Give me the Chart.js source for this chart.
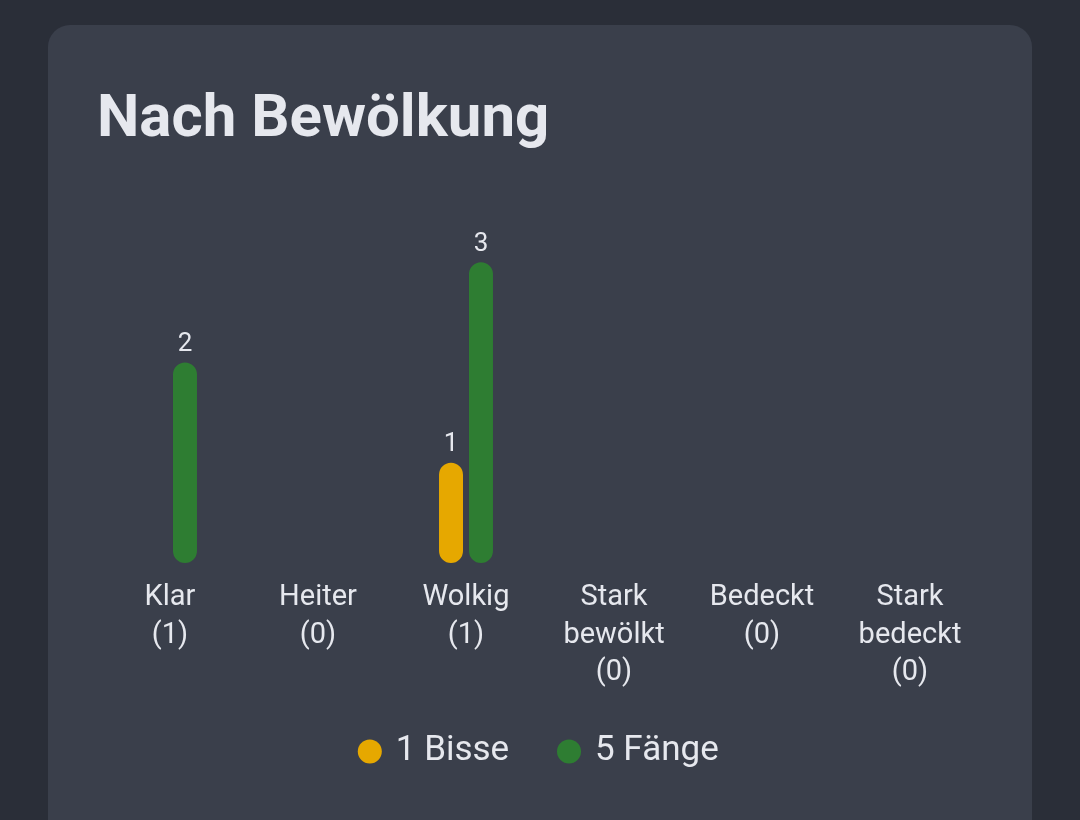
<!DOCTYPE html>
<html lang="de">
<head>
<meta charset="utf-8">
<title>Nach Bewölkung</title>
<script src="https://cdn.jsdelivr.net/npm/chart.js@4/dist/chart.umd.min.js"></script>
<style>
  html, body { margin: 0; padding: 0; }
  body {
    width: 1080px; height: 820px; overflow: hidden;
    background: #2a2e38;
    font-family: Roboto, "Noto Sans", sans-serif;
  }
  .card {
    position: absolute; left: 48px; top: 25px;
    width: 984px; height: 830px;
    background: #3a3f4b; border-radius: 22px;
  }
  .card h2 {
    position: absolute; left: 49px; top: 55px; margin: 0;
    font-size: 60px; font-weight: 700; color: #e6e8ee;
  }
  .chart-box {
    position: absolute; left: 0; top: 187px;
    width: 984px; height: 567px;
  }
</style>
</head>
<body>
<div class="card">
  <h2>Nach Bewölkung</h2>
  <div class="chart-box"><canvas id="cloudChart"></canvas></div>
</div>
<script>
// categories and counts per cloud cover
var categories = [["Klar", "(1)"], ["Heiter", "(0)"], ["Wolkig", "(1)"],
                  ["Stark", "bewölkt", "(0)"], ["Bedeckt", "(0)"], ["Stark", "bedeckt", "(0)"]];
var bisse = [0, 0, 1, 0, 0, 0];
var faenge = [2, 0, 3, 0, 0, 0];
var seriesLabels = ["1 Bisse", "5 Fänge"];

var textColor = "#e6e8ee";

// value labels above the bars
var valueLabels = {
    id: "valueLabels",
    afterDatasetsDraw: function (chart) {
        var ctx = chart.ctx;
        ctx.save();
        ctx.font = "26px Roboto";
        ctx.fillStyle = textColor;
        ctx.textAlign = "center";
        ctx.textBaseline = "bottom";
        chart.data.datasets.forEach(function (ds, i) {
            chart.getDatasetMeta(i).data.forEach(function (bar, j) {
                if (ds.data[j] > 0) {
                    ctx.fillText(ds.data[j], bar.x, bar.y - 5);
                }
            });
        });
        ctx.restore();
    }
};

new Chart("cloudChart", {
    type: "bar",
    data: {
        labels: categories,
        datasets: [{
            // trailing spaces widen the gap to the next legend item
            label: seriesLabels[0] + "  ",
            data: bisse,
            backgroundColor: "#e6a800",
            borderRadius: 12,
            borderSkipped: false
        }, {
            label: seriesLabels[1],
            data: faenge,
            backgroundColor: "#2e7d32",
            borderRadius: 12,
            borderSkipped: false
        }]
    },
    options: {
        responsive: true,
        maintainAspectRatio: false,
        animation: false,
        categoryPercentage: 0.405,
        barPercentage: 0.8,
        layout: { padding: { left: 48, right: 48, top: 0, bottom: 0 } },
        scales: {
            x: {
                grid: { display: false },
                border: { display: false },
                ticks: {
                    color: textColor,
                    font: { family: "Roboto", size: 29, lineHeight: 1.3 },
                    padding: 8,
                    maxRotation: 0,
                    autoSkip: false
                }
            },
            y: {
                display: false,
                min: 0,
                max: 3.5
            }
        },
        plugins: {
            tooltip: { enabled: false },
            legend: {
                position: "bottom",
                labels: {
                    color: textColor,
                    font: { family: "Roboto", size: 35 },
                    usePointStyle: true,
                    pointStyle: "circle",
                    boxWidth: 17,
                    boxHeight: 17,
                    padding: 34
                }
            }
        }
    },
    plugins: [valueLabels]
});
</script>
</body>
</html>
